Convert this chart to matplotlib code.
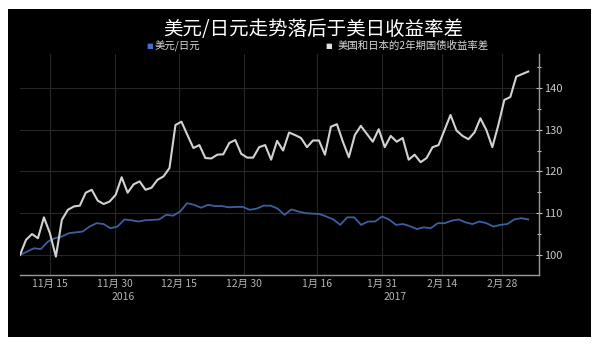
import numpy as np
import pandas as pd
import matplotlib
matplotlib.use('Agg')
import matplotlib.pyplot as plt
import matplotlib.dates as mdates
from matplotlib.patches import Rectangle

plt.rcParams['font.family'] = ['Noto Sans CJK SC', 'DejaVu Sans']

# 数据 (读自图片)
start = '2016-11-08'
end = '2017-03-06'

spread = [100.0, 103.6, 105.0, 104.0, 109.0, 105.2, 99.6, 108.4, 110.8, 111.6,
          111.8, 114.9, 115.6, 113.0, 112.2, 112.8, 114.4, 118.6, 114.9, 116.9,
          117.6, 115.6, 116.1, 118.0, 118.8, 120.8, 131.1, 131.9, 128.7, 125.6,
          126.3, 123.2, 123.1, 124.0, 124.1, 126.8, 127.5, 124.2, 123.3, 123.3,
          125.8, 126.3, 122.8, 127.3, 125.0, 129.3, 128.7,
          128.0, 125.8, 127.4, 127.4, 124.0, 130.7, 131.3, 127.1, 123.4, 128.7,
          130.9, 129.0, 127.1, 130.1, 125.8, 128.5, 127.1, 128.0, 122.8, 124.0,
          122.2, 123.2, 125.8, 126.3, 129.9, 133.5, 129.8, 128.5, 127.7, 129.3,
          132.7, 129.9, 125.8, 131.1, 137.1, 137.8, 142.7, 143.3, 143.9]

usdjpy = [100.0, 100.8, 101.6, 101.4, 103.2, 104.0, 104.4, 105.2, 105.4, 105.6,
          106.8, 107.6, 107.4, 106.4, 106.8, 108.5, 108.3, 108.0, 108.3, 108.4,
          108.5, 109.6, 109.4, 110.4, 112.4, 112.0, 111.3, 112.0, 111.7, 111.7,
          111.4, 111.5, 111.5, 110.8, 111.1, 111.8, 111.8, 111.1, 109.6, 110.9,
          110.4, 110.0, 109.9,
          109.8, 109.2, 108.5, 107.2, 109.0, 109.0, 107.2, 108.0, 108.0, 109.2,
          108.5, 107.2, 107.4, 106.9, 106.2, 106.6, 106.4, 107.6, 107.6, 108.2,
          108.5, 107.8, 107.4, 108.0, 107.6, 106.8, 107.2, 107.4, 108.5, 108.8,
          108.5]

tick_dates = ['2016-11-15', '2016-11-30', '2016-12-15', '2016-12-30',
              '2017-01-16', '2017-01-31', '2017-02-14', '2017-02-28']
tick_labels = ['11月 15', '11月 30', '12月 15', '12月 30',
               '1月 16', '1月 31', '2月 14', '2月 28']
year_labels = [('2016', '2016-12-02'), ('2017', '2017-02-03')]

title = '美元/日元走势落后于美日收益率差'
name_jpy = '美元/日元'
name_spread = '美国和日本的2年期国债收益率差'

t_spread = pd.date_range(start, end, periods=len(spread))
t_jpy = pd.date_range(start, end, periods=len(usdjpy))

fig = plt.figure(figsize=(6, 3.44), dpi=100)
fig.patch.set_facecolor('white')
fig.add_artist(Rectangle((8 / 600, 1 - 337 / 344), 583 / 600, 328 / 344,
                         transform=fig.transFigure, facecolor='black',
                         edgecolor='none', zorder=0))

ax = fig.add_axes([20 / 600, 1 - 275 / 344, 519 / 600, 221 / 344])
ax.set_facecolor('black')

ax.plot(t_jpy, usdjpy, color='#3d5f9e', lw=1.3, zorder=3)
ax.plot(t_spread, spread, color='#d2d2d2', lw=1.5, zorder=4)

ax.set_xlim(pd.Timestamp(start), pd.Timestamp('2017-03-08 12:00'))
ax.set_ylim(95.2, 148.1)

ax.yaxis.tick_right()
ax.set_yticks([100, 110, 120, 130, 140])
ax.set_yticks([105, 115, 125, 135, 145], minor=True)
ax.tick_params(axis='y', which='both', colors='#c8c8c8', labelsize=8,
               direction='inout', length=4, width=0.8, pad=2)
ax.tick_params(axis='y', which='minor', length=3)

ax.set_xticks(pd.to_datetime(tick_dates))
ax.set_xticklabels(tick_labels)
ax.tick_params(axis='x', colors='#b4b4b4', labelsize=7.5, length=0, pad=3)

for sp in ['top', 'left']:
    ax.spines[sp].set_visible(False)
for sp in ['right', 'bottom']:
    ax.spines[sp].set_color('#9a9a9a')
    ax.spines[sp].set_linewidth(1.0)

ax.grid(True, color='#262626', lw=0.8, zorder=1)

for yl, d in year_labels:
    ax.text(pd.Timestamp(d), -0.075, yl, transform=ax.get_xaxis_transform(),
            ha='center', va='top', color='#b4b4b4', fontsize=7.5)

fig.text(313 / 600, 1 - 29 / 344, title, ha='center', va='center',
         color='white', fontsize=14)

fig.text(150 / 600, 1 - 46 / 344, '\u25a0', ha='center', va='center',
         color='#3f6fd0', fontsize=5, family='DejaVu Sans')
fig.text(155 / 600, 1 - 46 / 344, name_jpy, ha='left', va='center',
         color='#d8d8d8', fontsize=7.5)
fig.text(329 / 600, 1 - 46 / 344, '\u25a0', ha='center', va='center',
         color='#e0e0e0', fontsize=5, family='DejaVu Sans')
fig.text(338 / 600, 1 - 46 / 344, name_spread, ha='left', va='center',
         color='#d8d8d8', fontsize=7.5)

fig.savefig('out.png', dpi=100, facecolor='white')
